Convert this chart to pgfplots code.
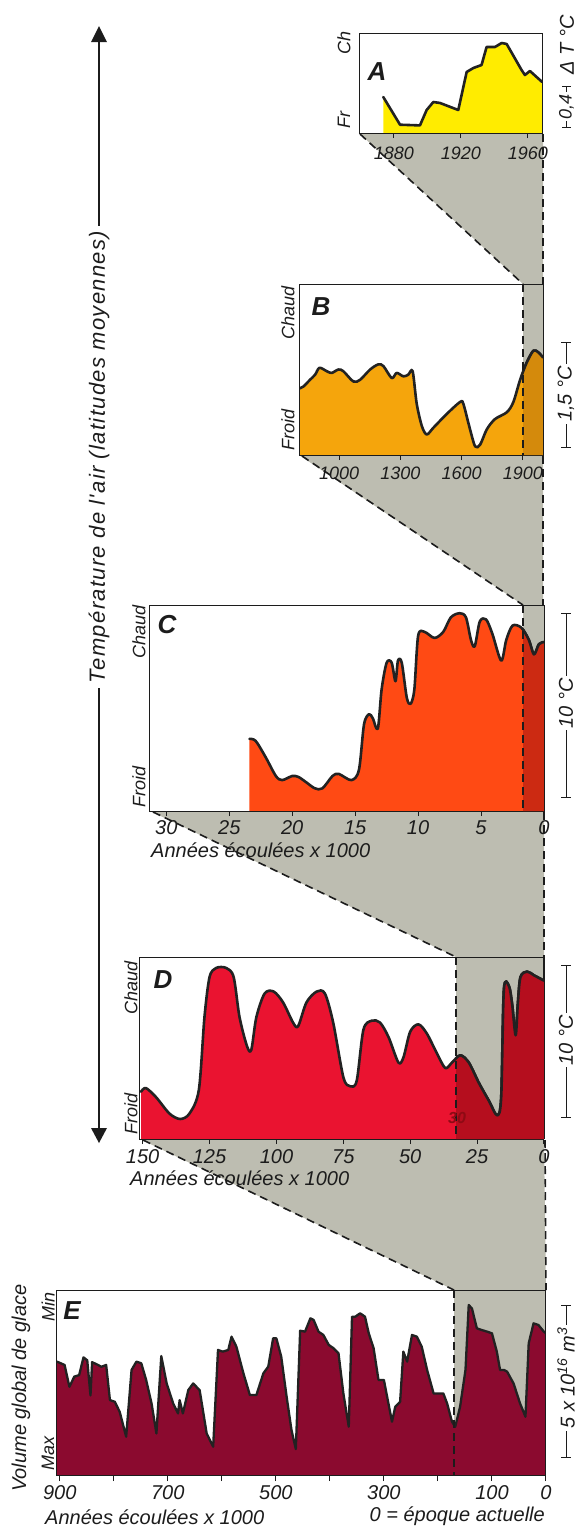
\documentclass[border=0pt]{standalone}
\usepackage{fontspec}
\setmainfont{Liberation Sans}
\newfontfamily\spaced[LetterSpace=6]{Liberation Sans}
\usepackage{pgfplots}
\pgfplotsset{compat=1.18}
\usepackage{pgfplotstable}

\definecolor{ink}{HTML}{1C1C1C}
\definecolor{crv}{HTML}{222222}
\definecolor{grayf}{HTML}{BDBDB1}
\definecolor{cA}{HTML}{FFEC00}
\definecolor{cB}{HTML}{F5A50C}
\definecolor{cBd}{HTML}{D48A0C}
\definecolor{cC}{HTML}{FF4A14}
\definecolor{cCd}{HTML}{CC2A12}
\definecolor{cD}{HTML}{EA1330}
\definecolor{cDd}{HTML}{B50E1E}
\definecolor{cDt}{HTML}{8E0A14}
\definecolor{cE}{HTML}{8B0A2F}

\newcommand\fs[1]{\fontsize{#1}{#1}\selectfont}
\newcommand\tkA{\fontsize{18}{18}\selectfont\itshape}
\newcommand\tkB{\fontsize{20}{20}\selectfont\itshape}

% A: 1870-1970, relative temperature (0 = froid, 1 = chaud)
\pgfplotstableread{
x y
1873.6 0.36
1883.6 0.083
1895.5 0.076
1899.5 0.23
1903.5 0.31
1907.5 0.30
1918.4 0.23
1923.4 0.61
1927.4 0.65
1932.3 0.68
1935.3 0.86
1940.3 0.86
1944.3 0.90
1947.3 0.89
1956.2 0.63
1958.2 0.58
1961.2 0.62
1968.5 0.51
}\dataA

% B: the last thousand years
\pgfplotstableread{
x y
806 0.39
825 0.40
858 0.44
883 0.47
904 0.51
940 0.49
964 0.48
997 0.50
1021 0.49
1070 0.43
1103 0.44
1152 0.50
1192 0.53
1217 0.52
1258 0.45
1282 0.48
1315 0.46
1339 0.47
1360 0.49
1380 0.30
1405 0.17
1429 0.12
1462 0.16
1527 0.24
1592 0.31
1608 0.30
1641 0.15
1666 0.05
1690 0.06
1723 0.15
1763 0.21
1821 0.25
1853 0.31
1886 0.44
1918 0.54
1951 0.61
1975 0.60
1998 0.57
}\dataB

% C: thousands of years
\pgfplotstableread{
x y
23.4 0.35
22.9 0.34
22.1 0.26
21.3 0.17
20.8 0.15
20.0 0.17
19.5 0.165
18.9 0.14
18.2 0.11
17.6 0.11
16.8 0.17
16.3 0.18
15.3 0.15
14.7 0.20
14.3 0.42
13.9 0.47
13.6 0.45
13.2 0.40
12.9 0.59
12.5 0.72
12.1 0.72
11.8 0.63
11.6 0.73
11.3 0.72
10.9 0.55
10.6 0.52
10.3 0.59
10.0 0.85
9.5 0.87
8.7 0.84
8.0 0.87
7.4 0.94
6.7 0.96
6.2 0.94
5.8 0.83
5.5 0.80
5.1 0.92
4.6 0.93
4.1 0.86
3.4 0.73
3.0 0.83
2.5 0.90
1.8 0.89
1.2 0.83
0.8 0.76
0.4 0.81
0.0 0.82
}\dataC

% D: thousands of years
\pgfplotstableread{
x y
150.6 0.26
148.8 0.28
145.0 0.23
140.0 0.14
136.0 0.11
132.5 0.14
129.0 0.27
126.9 0.67
125.0 0.89
122.5 0.94
118.8 0.94
116.0 0.89
113.8 0.67
111.0 0.51
109.4 0.49
107.5 0.67
104.4 0.80
101.0 0.81
97.5 0.75
93.8 0.64
91.9 0.62
88.8 0.75
85.0 0.81
81.9 0.80
78.8 0.64
75.0 0.34
72.5 0.29
70.0 0.32
67.5 0.60
64.4 0.65
61.3 0.64
58.1 0.56
54.4 0.42
52.5 0.45
50.0 0.59
46.9 0.63
43.8 0.58
40.0 0.47
36.9 0.39
34.4 0.42
31.3 0.46
28.1 0.42
24.4 0.31
20.6 0.21
17.5 0.13
16.0 0.23
15.0 0.82
13.1 0.84
11.9 0.74
10.6 0.57
9.8 0.74
8.8 0.89
6.3 0.92
3.8 0.90
0.0 0.87
}\dataD

% E: global ice volume (1 = min, 0 = max), thousands of years
\pgfplotstableread{
x y
905 0.613
891 0.595
882 0.477
873 0.532
864 0.54
856 0.636
849 0.62
843 0.43
840 0.61
829 0.595
823 0.585
814 0.595
807 0.405
798 0.396
789 0.342
777 0.207
767 0.568
758 0.613
749 0.604
740 0.514
730 0.387
721 0.225
712 0.643
702 0.495
690 0.387
681 0.333
678 0.405
672 0.333
662 0.459
653 0.495
641 0.459
628 0.225
616 0.153
607 0.676
598 0.667
588 0.676
582 0.748
573 0.694
560 0.55
548 0.432
536 0.432
523 0.55
514 0.586
505 0.739
499 0.739
490 0.64
480 0.423
471 0.243
463 0.14
455 0.78
446 0.775
436 0.847
430 0.838
421 0.775
412 0.757
402 0.703
393 0.685
384 0.658
375 0.441
365 0.261
359 0.856
353 0.856
344 0.874
335 0.856
328 0.766
319 0.685
310 0.514
300 0.514
294 0.423
285 0.288
279 0.369
270 0.396
264 0.667
257 0.613
248 0.757
239 0.748
230 0.694
220 0.568
208 0.441
199 0.441
190 0.441
183 0.387
174 0.288
168 0.261
159 0.369
149 0.568
143 0.919
137 0.90
128 0.793
119 0.784
109 0.775
100 0.766
91 0.667
85 0.568
78 0.568
72 0.559
60 0.495
48 0.387
38 0.315
32 0.712
23 0.82
14 0.811
4 0.775
0 0.766
}\dataE

\pgfplotsset{
  panel/.style={
    scale only axis, anchor=north west, axis on top,
    ymin=0, ymax=1, ytick=\empty,
    xtick pos=left, tick align=outside,
    major tick length=5pt,
    axis line style={line width=1pt, draw=ink},
    every tick/.style={line width=1pt, draw=ink},
    xticklabel style={font=\tkA, text=ink, inner sep=0pt, anchor=center},
  },
  over/.style={
    scale only axis, anchor=north west, hide axis,
    ymin=0, ymax=1,
  },
  curve/.style={line width=2.6pt, draw=crv, line join=round, line cap=round, mark=none},
}

\begin{document}
\begin{tikzpicture}
\useasboundingbox (0,0) rectangle (587pt,-1527pt);

% grey funnels between the panels
\begin{scope}[x=1pt,y=-1pt]
  \fill[grayf] (359,133) -- (543,133) -- (543,284) -- (523,284) -- cycle;
  \fill[grayf] (523,284) rectangle (543,455);
  \fill[grayf] (299,455) -- (543,455) -- (543,605) -- (523,605) -- cycle;
  \fill[grayf] (523,605) rectangle (544,811);
  \fill[grayf] (150,811) -- (544,811) -- (544,957) -- (456,957) -- cycle;
  \fill[grayf] (456,957) rectangle (544,1139);
  \fill[grayf] (140,1139) -- (544,1139) -- (546,1290) -- (454,1290) -- cycle;
  \fill[grayf] (454,1290) rectangle (546,1475);
\end{scope}

% A
\begin{axis}[panel, at={(359pt,-33pt)}, width=183pt, height=100pt,
  xmin=1859.1, xmax=1968.4, xtick={1880,1920,1960}, xticklabels={1880,1920,1960},
  xticklabel style={yshift=-15pt}]
  \addplot[fill=cA, draw=none] table {\dataA} \closedcycle;
  \addplot[curve] table {\dataA};
\end{axis}

% B
\begin{axis}[panel, at={(299pt,-284pt)}, width=244pt, height=171pt,
  xmin=804, xmax=1998, xtick={1000,1300,1600,1900}, xticklabels={1000,1300,1600,1900},
  xticklabel style={yshift=-13pt}]
  \addplot[fill=cB, draw=none, smooth, tension=0.5] table {\dataB} \closedcycle;
  \addplot[curve, smooth, tension=0.5] table {\dataB};
\end{axis}
\begin{axis}[over, at={(523pt,-284pt)}, width=20.03pt, height=171pt, xmin=1900, xmax=1998]
  \addplot[fill=cBd, draw=none, smooth, tension=0.5] table {\dataB} \closedcycle;
  \addplot[curve, smooth, tension=0.5] table {\dataB};
\end{axis}

% C
\begin{axis}[panel, at={(150pt,-605pt)}, width=394pt, height=206pt,
  x dir=reverse, xmin=0, xmax=31.3, xtick={0,5,...,30}, xticklabels={0,5,10,15,20,25,30},
  xticklabel style={font=\tkB, yshift=-12pt}]
  \addplot[fill=cC, draw=none, smooth, tension=0.5] table {\dataC} \closedcycle;
  \addplot[curve, smooth, tension=0.5] table {\dataC};
\end{axis}
\begin{axis}[over, at={(523pt,-605pt)}, width=21pt, height=206pt, x dir=reverse, xmin=0, xmax=1.668]
  \addplot[fill=cCd, draw=none, smooth, tension=0.5] table {\dataC} \closedcycle;
  \addplot[curve, smooth, tension=0.5] table {\dataC};
\end{axis}

% D
\begin{axis}[panel, at={(140pt,-957pt)}, width=404pt, height=182pt,
  x dir=reverse, xmin=0, xmax=151, xtick={0,25,...,150}, xticklabels={0,25,50,75,100,125,150},
  xticklabel style={font=\tkB, yshift=-13pt}]
  \addplot[fill=cD, draw=none, smooth, tension=0.5] table {\dataD} \closedcycle;
  \addplot[curve, smooth, tension=0.5] table {\dataD};
\end{axis}
\begin{axis}[over, at={(456pt,-957pt)}, width=88pt, height=182pt, x dir=reverse, xmin=0, xmax=32.89]
  \addplot[fill=cDd, draw=none, smooth, tension=0.5] table {\dataD} \closedcycle;
  \addplot[curve, smooth, tension=0.5] table {\dataD};
\end{axis}

% E
\begin{axis}[panel, at={(57pt,-1290pt)}, width=489pt, height=185pt,
  x dir=reverse, xmin=0, xmax=905, xtick={0,100,...,900},
  xticklabels={0,100,{},300,{},500,{},700,{},900}, major tick length=6pt,
  xticklabel style={font=\tkB, yshift=-12pt}]
  \addplot[fill=cE, draw=none] table {\dataE} \closedcycle;
  \addplot[curve, line width=2.3pt] table {\dataE};
\end{axis}

\begin{scope}[x=1pt,y=-1pt, dsh/.style={ink, line width=1.6pt, dash pattern=on 8pt off 5pt}]
  % dashed outlines of the funnels
  \draw[dsh] (360,134) -- (523,284);
  \draw[dsh] (543,134) -- (543,284);
  \draw[dsh] (523,284) -- (523,455);
  \draw[dsh] (302,456) -- (523,605);
  \draw[dsh] (543,456) -- (543,605);
  \draw[dsh] (523,605) -- (523,811);
  \draw[dsh] (153,812) -- (456,957);
  \draw[dsh] (544,812) -- (544,957);
  \draw[dsh] (456,957) -- (456,1139);
  \draw[dsh] (143,1140) -- (454,1290);
  \draw[dsh] (545,1140) -- (546,1290);
  \draw[dsh] (454,1290) -- (454,1475);
  \draw[ink, line width=1pt] (543,284) -- (543,455) (544,605) -- (544,811) (544,957) -- (544,1139);

  % panel letters
  \node[font=\fs{26}\bfseries\itshape, text=ink] at (377,72) {A};
  \node[font=\fs{26}\bfseries\itshape, text=ink] at (321,307) {B};
  \node[font=\fs{26}\bfseries\itshape, text=ink] at (167,625) {C};
  \node[font=\fs{26}\bfseries\itshape, text=ink] at (163,980) {D};
  \node[font=\fs{26}\bfseries\itshape, text=ink] at (72,1311) {E};

  % left labels
  \tikzset{lab/.style={rotate=90, font=\fs{18}\itshape, text=ink, inner sep=0pt}}
  \node[lab] at (344,43) {Ch};
  \node[lab] at (344,120) {Fr};
  \node[lab] at (288,313) {Chaud};
  \node[lab] at (288,430) {Froid};
  \node[lab] at (139,632) {Chaud};
  \node[lab] at (139,787) {Froid};
  \node[lab] at (131,988) {Chaud};
  \node[lab] at (131,1114) {Froid};
  \node[lab] at (48,1307) {Min};
  \node[lab] at (48,1453) {Max};
  \node[rotate=90, anchor=west, font=\fs{20}\itshape, text=ink, inner sep=0pt] at (21,1492) {Volume global de glace};

  % axis titles
  \tikzset{ttl/.style={font=\fs{20}\itshape, text=ink, inner sep=0pt}}
  \node[ttl, anchor=west] at (151,850) {Années écoulées x 1000};
  \node[ttl, anchor=west] at (130,1178) {Années écoulées x 1000};
  \node[ttl, anchor=west] at (45,1517) {Années écoulées x 1000};
  \node[ttl, anchor=east] at (545,1516) {0 = époque actuelle};
  \node[font=\fs{16}\bfseries\itshape, text=cDt] at (457,1118) {30};

  % scale bars on the right
  \tikzset{sb/.style={rotate=90, fill=white, inner sep=2pt, font=\fs{20}\itshape, text=ink}}
  \draw[ink, line width=1pt] (562,127) -- (571,127) (562,86) -- (571,86) (566.5,127) -- (566.5,86);
  \node[sb, font=\fs{18}\itshape] at (566.5,106.5) {0,4};
  \node[rotate=90, font=\fs{20}\itshape, text=ink, inner sep=0pt] at (567,45) {Δ T °C};
  \draw[ink, line width=1pt] (561,342) -- (571,342) (561,447) -- (571,447) (566,342) -- (566,447);
  \node[sb] at (566,394) {1,5 °C};
  \draw[ink, line width=1pt] (561,613) -- (571,613) (561,797) -- (571,797) (566,613) -- (566,797);
  \node[sb] at (566,703) {10 °C};
  \draw[ink, line width=1pt] (561,965) -- (571,965) (561,1117) -- (571,1117) (566,965) -- (566,1117);
  \node[sb] at (566,1040) {10 °C};
  \draw[ink, line width=1pt] (561,1305) -- (571,1305) (561,1457) -- (571,1457) (566,1305) -- (566,1457);
  \node[sb] at (566,1378) {5 x 10\textsuperscript{16} m\textsuperscript{3}};

  % temperature arrow
  \draw[ink, line width=1.3pt] (99,38) -- (99,1130);
  \fill[ink] (99,26) -- (91,42) -- (107,42) -- cycle;
  \fill[ink] (99,1143) -- (91,1128) -- (107,1128) -- cycle;
  \node[rotate=90, fill=white, inner sep=5pt, font=\fs{22}\spaced\itshape, text=ink] at (99,457) {Température de l'air (latitudes moyennes)};
\end{scope}
\end{tikzpicture}
\end{document}
